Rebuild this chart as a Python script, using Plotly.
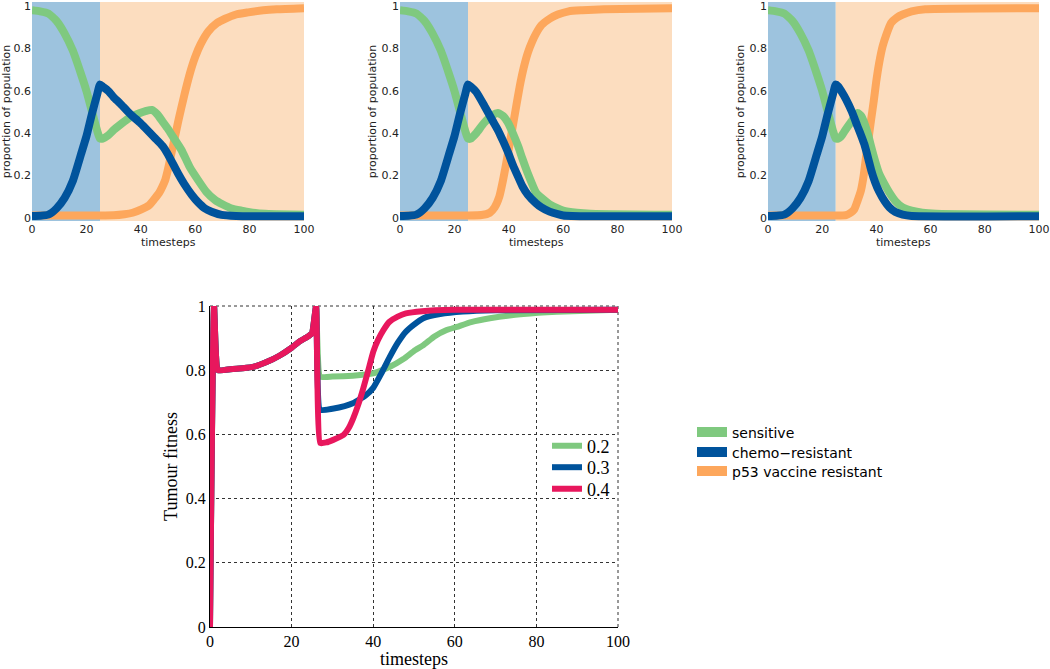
import plotly.graph_objects as go

# ---------------- data: top panels (proportion of population) ----------------
t_pre = [0, 3, 6, 9, 12, 15, 18, 20, 22, 24, 25]
sens_pre = [0.98, 0.975, 0.965, 0.93, 0.87, 0.79, 0.68, 0.60, 0.505, 0.41, 0.375]
chemo_pre = [0.01, 0.011, 0.016, 0.045, 0.095, 0.175, 0.30, 0.385, 0.49, 0.585, 0.63]
p53_pre = [0.012, 0.012, 0.012, 0.012, 0.012, 0.012, 0.012, 0.012, 0.012, 0.012, 0.012]

# panel 1
p1_t_sens = [26, 28, 30, 32.4, 35, 37, 39.7, 42, 44, 46, 48, 50, 52, 55, 58, 61, 64, 67.3, 70, 73.4, 77, 80, 85.6, 90, 100]
p1_sens = [0.375, 0.39, 0.415, 0.44, 0.465, 0.48, 0.495, 0.505, 0.51, 0.49, 0.455, 0.42, 0.38, 0.32, 0.24, 0.18, 0.125, 0.085, 0.065, 0.045, 0.035, 0.028, 0.02, 0.018, 0.015]
p1_t_chemo = [26, 28, 30, 32.4, 35, 37, 39.7, 42, 45, 48, 50, 53.7, 56, 58.7, 61, 63.6, 66, 69.7, 75, 100]
p1_chemo = [0.62, 0.60, 0.57, 0.54, 0.505, 0.48, 0.45, 0.42, 0.38, 0.34, 0.30, 0.21, 0.16, 0.11, 0.075, 0.045, 0.03, 0.015, 0.01, 0.008]
p1_t_p53 = [30, 34, 37, 40, 43, 45, 46.8, 48, 49, 50, 51, 52, 53, 54, 56, 58, 60, 62, 64.8, 68, 71, 75, 79.5, 85, 90, 100]
p1_p53 = [0.013, 0.018, 0.025, 0.04, 0.06, 0.09, 0.12, 0.15, 0.18, 0.23, 0.29, 0.35, 0.41, 0.47, 0.58, 0.68, 0.76, 0.82, 0.88, 0.92, 0.94, 0.96, 0.97, 0.98, 0.985, 0.99]

# panel 2
p2_t_sens = [26, 28, 31, 34, 36, 38, 39.7, 41.5, 43.4, 45, 47, 50, 52, 55, 58, 60, 65, 70, 100]
p2_sens = [0.375, 0.40, 0.45, 0.485, 0.495, 0.48, 0.45, 0.40, 0.34, 0.28, 0.21, 0.12, 0.095, 0.065, 0.045, 0.035, 0.025, 0.02, 0.015]
p2_t_chemo = [26, 28, 31, 34, 36, 38, 39.7, 41.5, 43.4, 45, 47, 50, 52, 55, 58, 60, 70, 100]
p2_chemo = [0.62, 0.595, 0.53, 0.46, 0.415, 0.36, 0.31, 0.25, 0.195, 0.15, 0.11, 0.07, 0.05, 0.03, 0.018, 0.012, 0.008, 0.008]
p2_t_p53 = [30, 33, 34.8, 36.5, 37.9, 39.5, 41, 42.5, 44, 45.5, 47, 48.5, 50, 52, 55, 58, 62, 67, 75, 100]
p2_p53 = [0.014, 0.025, 0.05, 0.10, 0.18, 0.29, 0.40, 0.51, 0.62, 0.71, 0.78, 0.83, 0.87, 0.91, 0.94, 0.96, 0.975, 0.98, 0.985, 0.99]

# panel 3
p3_t_sens = [26, 27, 28.8, 31, 33.1, 34.5, 35.5, 37, 38, 39.5, 41, 43, 44.8, 47, 49.7, 53, 57, 62, 100]
p3_sens = [0.375, 0.385, 0.42, 0.46, 0.495, 0.48, 0.45, 0.39, 0.34, 0.27, 0.21, 0.16, 0.12, 0.08, 0.05, 0.035, 0.025, 0.02, 0.015]
p3_t_chemo = [26, 27, 28.8, 31, 33.1, 34.5, 35.5, 37, 38, 39.5, 41, 43, 44.8, 47, 49.7, 53, 100]
p3_chemo = [0.62, 0.60, 0.56, 0.50, 0.43, 0.385, 0.35, 0.28, 0.23, 0.17, 0.125, 0.08, 0.05, 0.028, 0.016, 0.01, 0.008]
p3_t_p53 = [28.8, 30.5, 31.8, 33, 34.3, 35.3, 36.2, 37.1, 38, 39, 39.9, 41, 42.3, 43.8, 45.4, 47.5, 49.7, 53, 58, 100]
p3_p53 = [0.014, 0.025, 0.04, 0.08, 0.13, 0.20, 0.29, 0.375, 0.46, 0.55, 0.64, 0.73, 0.81, 0.87, 0.92, 0.945, 0.96, 0.975, 0.985, 0.99]

# ---------------- data: bottom panel (tumour fitness) ----------------
fit_t_pre = [0, 1, 2, 5, 8, 11, 14, 17, 20, 22, 24, 25, 26]
fit_pre = [0.0, 1.0, 0.80, 0.803, 0.806, 0.812, 0.826, 0.845, 0.87, 0.89, 0.905, 0.915, 1.0]

f02_t = [27, 30, 35, 40, 44, 47.4, 50, 52.3, 55, 58, 60.5, 64, 68.6, 76.8, 85, 100]
f02 = [0.78, 0.78, 0.783, 0.79, 0.81, 0.835, 0.86, 0.878, 0.905, 0.925, 0.935, 0.95, 0.962, 0.975, 0.982, 0.988]
f03_t = [27, 30, 33, 35, 38, 40, 42, 44, 46, 48, 50, 52.3, 56.4, 62, 70, 100]
f03 = [0.676, 0.68, 0.688, 0.697, 0.72, 0.745, 0.79, 0.84, 0.885, 0.92, 0.942, 0.962, 0.975, 0.983, 0.987, 0.988]
f04_t = [27, 28.5, 30.2, 32.7, 34, 35.1, 36.4, 37.6, 38.8, 40, 41.2, 42.5, 44, 46, 48, 52, 60, 100]
f04 = [0.573, 0.575, 0.583, 0.598, 0.62, 0.65, 0.695, 0.745, 0.80, 0.857, 0.895, 0.925, 0.951, 0.967, 0.977, 0.984, 0.988, 0.988]

series_names = ["sensitive", "chemo\u2212resistant", "p53 vaccine resistant"]
fitness_names = ["0.2", "0.3", "0.4"]
y_ticks = [0, 0.2, 0.4, 0.6, 0.8, 1]
y_ticktext = ["0", "0.2", "0.4", "0.6", "0.8", "1"]
x_ticks = [0, 20, 40, 60, 80, 100]

GREEN = "#7FC97F"
BLUE = "#00539C"
ORANGE = "#FDA75C"
RED = "#E8175D"
SHADE_BLUE = "#9DC3DE"
SHADE_ORANGE = "#FCDDBF"

W, H = 1050, 669
fig = go.Figure()

panels = [
    (p1_t_sens, p1_sens, p1_t_chemo, p1_chemo, p1_t_p53, p1_p53),
    (p2_t_sens, p2_sens, p2_t_chemo, p2_chemo, p2_t_p53, p2_p53),
    (p3_t_sens, p3_sens, p3_t_chemo, p3_chemo, p3_t_p53, p3_p53),
]
top_px = [(32, 304), (400, 672), (768, 1039)]
top_domains = [[a / W, b / W] for a, b in top_px]
top_ydomain = [1 - 221 / H, 1 - 2 / H]

for i, (ts, s, tc, c, tp, p) in enumerate(panels):
    xa = "x" if i == 0 else f"x{i+1}"
    ya = "y" if i == 0 else f"y{i+1}"
    for tt, vals, pre_v, col in [
        (tp, p, p53_pre, ORANGE),
        (ts, s, sens_pre, GREEN),
        (tc, c, chemo_pre, BLUE),
    ]:
        fig.add_trace(go.Scatter(
            x=t_pre + tt, y=pre_v + vals, mode="lines",
            line=dict(color=col, width=8, shape="spline", smoothing=0.5), showlegend=False,
            xaxis=xa, yaxis=ya, hoverinfo="skip"))
    fig.add_shape(type="rect", xref=xa, yref=f"{ya} domain", x0=0, x1=25, y0=0, y1=1,
                  fillcolor=SHADE_BLUE, line_width=0, layer="below")
    fig.add_shape(type="rect", xref=xa, yref=f"{ya} domain", x0=25, x1=100, y0=0, y1=1,
                  fillcolor=SHADE_ORANGE, line_width=0, layer="below")
    fig.add_annotation(text="timesteps", xref=f"{xa} domain", yref="paper", x=0.5,
                       y=1 - 242 / H, yanchor="middle", showarrow=False,
                       font=dict(family="DejaVu Sans", size=11, color="#222"))

# legend entries for top panels (one legend per entry for exact placement)
right_legend_y = [432.5, 452.5, 471.5]
for k, (name, col) in enumerate(zip(series_names, [GREEN, BLUE, ORANGE])):
    lg = "legend" if k == 0 else f"legend{k+1}"
    fig.add_trace(go.Scatter(x=[None], y=[None], mode="lines", name=name,
                             line=dict(color=col, width=10), legend=lg,
                             xaxis="x", yaxis="y"))

# bottom panel
for k, (name, tt, vals, col) in enumerate(zip(fitness_names, [f02_t, f03_t, f04_t], [f02, f03, f04], [GREEN, BLUE, RED])):
    fig.add_trace(go.Scatter(
        x=fit_t_pre + tt, y=fit_pre + vals, mode="lines", name=name,
        line=dict(color=col, width=6, shape="spline", smoothing=0.4), legend=f"legend{k+4}",
        xaxis="x4", yaxis="y4", cliponaxis=False, hoverinfo="skip"))

# dotted top / right border of bottom box
fig.add_shape(type="line", xref="x4 domain", yref="y4 domain", x0=0, x1=1, y0=1, y1=1,
              line=dict(color="#333", width=1, dash="dot"), layer="below")
fig.add_shape(type="line", xref="x4 domain", yref="y4 domain", x0=1, x1=1, y0=0, y1=1,
              line=dict(color="#333", width=1, dash="dot"), layer="below")

top_font = dict(family="DejaVu Sans", size=11, color="#222")
for i in range(3):
    xk = "xaxis" if i == 0 else f"xaxis{i+1}"
    yk = "yaxis" if i == 0 else f"yaxis{i+1}"
    ya = "y" if i == 0 else f"y{i+1}"
    xa = "x" if i == 0 else f"x{i+1}"
    fig.layout[xk] = dict(domain=top_domains[i], anchor=ya, range=[0, 100], automargin=False,
                          tickvals=x_ticks, showgrid=False, zeroline=False, showline=False,
                          ticks="", tickfont=top_font, ticklabeloverflow="allow")
    fig.layout[yk] = dict(domain=top_ydomain, anchor=xa, range=[-0.014, 1.019], automargin=False,
                          tickvals=y_ticks, ticktext=y_ticktext, showgrid=False,
                          zeroline=False, showline=False, ticks="", tickfont=top_font,
                          ticklabeloverflow="allow",
                          title=dict(text="proportion of population", font=top_font, standoff=2))

serif = dict(family="Liberation Serif", size=16, color="black")
fig.layout["xaxis4"] = dict(domain=[210 / W, 618 / W], anchor="y4", range=[0, 100], automargin=False,
                            tickvals=x_ticks, showgrid=True, gridcolor="#333", griddash="dot",
                            gridwidth=1, zeroline=False, showline=True, linecolor="black",
                            linewidth=1, ticks="", tickfont=serif, ticklabeloverflow="allow",
                            title=dict(text="timesteps", font=dict(family="Liberation Serif", size=18, color="black"), standoff=0))
fig.layout["yaxis4"] = dict(domain=[1 - 627 / H, 1 - 306 / H], anchor="x4", range=[0, 1], automargin=False,
                            tickvals=y_ticks, ticktext=y_ticktext, showgrid=True,
                            gridcolor="#333", griddash="dot", gridwidth=1, zeroline=False,
                            showline=True, linecolor="black", linewidth=1, ticks="",
                            tickfont=serif, ticklabeloverflow="allow",
                            title=dict(text="Tumour fitness", font=dict(family="Liberation Serif", size=18, color="black"), standoff=3))

legend_layout = {}
for k in range(3):
    lg = "legend" if k == 0 else f"legend{k+1}"
    legend_layout[lg] = dict(x=692 / W, y=1 - right_legend_y[k] / H, xanchor="left", yanchor="middle",
                             font=dict(family="DejaVu Sans", size=14, color="black"),
                             bgcolor="rgba(0,0,0,0)", itemwidth=30)
bottom_legend_y = [446, 467.5, 489]
for k in range(3):
    legend_layout[f"legend{k+4}"] = dict(x=547 / W, y=1 - bottom_legend_y[k] / H, xanchor="left",
                                         yanchor="middle",
                                         font=dict(family="Liberation Serif", size=18, color="black"),
                                         bgcolor="rgba(0,0,0,0)", itemwidth=30)

fig.update_layout(
    width=W, height=H,
    margin=dict(l=0, r=0, t=0, b=0, autoexpand=False),
    paper_bgcolor="white", plot_bgcolor="white",
    **legend_layout,
)

fig.write_html("out.html", config={"displayModeBar": False},
               post_script="document.body.style.margin='0';document.body.style.overflow='hidden';")
